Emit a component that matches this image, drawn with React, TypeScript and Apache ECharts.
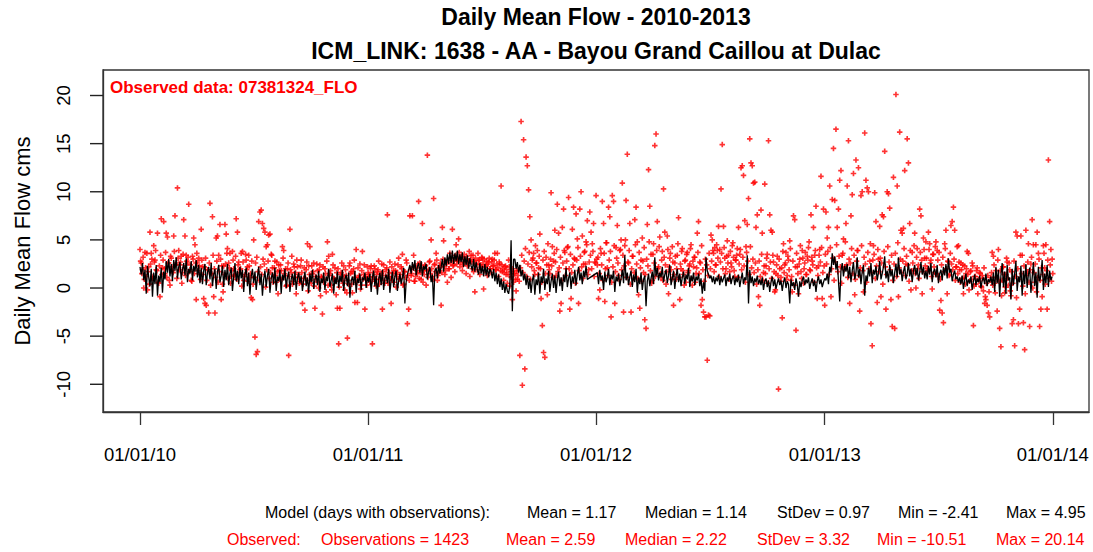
import React, { useEffect, useRef } from "react";
import * as echarts from "echarts";

// ---------- data ----------
const xTickDays = [0, 365, 730, 1096, 1461];
const xTickLabels = ["01/01/10", "01/01/11", "01/01/12", "01/01/13", "01/01/14"];
const yTicks = [-10, -5, 0, 5, 10, 15, 20];
const chunkStartDays = [0, 366, 732, 1098];
const stepDays = 2;

const titleLine1 = "Daily Mean Flow - 2010-2013";
const titleLine2 = "ICM_LINK: 1638 - AA - Bayou Grand Caillou at Dulac";
const obsLabel = "Observed data: 07381324_FLO";
const yName = "Daily Mean Flow cms";
const modelStatTexts = ["Model (days with observations):", "Mean = 1.17", "Median = 1.14", "StDev = 0.97", "Min = -2.41", "Max = 4.95"];
const obsStatTexts = ["Observed:", "Observations = 1423", "Mean = 2.59", "Median = 2.22", "StDev = 3.32", "Min = -10.51", "Max = 20.14"];

// model (every second day)
const model2010 = [
  2.2, 1.4, 2.6, 0.8, 1.9, -0.6, 2.3, 1.1, 0.2, 2.0, -0.9, 1.6, 0.4, 2.4, -0.8, 1.3, 0.6, 2.1, -0.5, 1.7, 0.9,
  2.8, 1.6, 3.0, 1.2, 2.5, 0.7, 2.9, 1.8, 3.2, 1.0, 2.2, 2.7, 0.9, 1.9, 2.6, 1.3, 3.1, 0.6, 2.0, 1.5, 2.8, 0.8, 2.3, 1.7, 2.9, 1.1, 2.4, 0.5,
  2.1, 0.4, 1.8, 2.5, 0.3, 1.6, 2.2, 0.9, 2.6, 0.2, 1.4, 2.0, -0.1, 1.7, 2.4, 0.6, 1.3, 2.3, 0.1, 1.9, 0.8, 2.5, 0.3, 1.5, 2.1, -0.3, 1.2, 2.6, 0.7, 1.8, 0.4, 2.2,
  1.0, 1.9, -0.4, 1.4, 2.1, 0.2, 1.6, -0.7, 1.2, 2.0, 0.5, 1.7, -0.2, 1.1, 2.2, 0.3, 1.5, -0.8, 0.9, 1.8, 0.1, 1.3, 2.0, -0.5, 1.0, 1.6, 0.4, 2.1, -0.3, 1.2, 0.7, 1.9, -0.6, 1.4, 0.8, 2.0, 0.0, 1.1, 1.7, -0.4, 0.9, 1.5, 0.3, 1.8, -0.2, 1.0, 1.6, 0.5,
  1.3, -0.3, 0.8, 1.7, 0.2, 1.1, -0.5, 1.5, 0.6, 1.9, -0.1, 0.9, 1.4, 0.3, 1.8, -0.4, 1.0, 0.5, 1.6, -0.2, 1.2, 0.7, 2.0, 0.1, 0.8, 1.5, -0.6, 1.1, 0.4, 1.7, 0.0, 1.3, 0.6, 1.9, -0.3, 0.9, 1.4, 0.2, 1.6, -1.0, 0.7, 1.2, 0.3, 1.8, -0.5, 1.0, 0.5, 1.5, -0.2, 1.1, 0.8, 1.6, 0.0, 1.2,
];
const model2011 = [
  0.6, 1.5, -0.4, 1.1, 1.8, 0.2, 1.3, -0.7, 0.9, 1.6, 0.3, 1.9, -0.2, 1.0, 1.4, 0.5, 2.0, -0.5, 0.8, 1.7, 0.1, 1.2, 1.8, -0.3, 0.7, 1.5, 0.4, 1.1, 2.1, -1.6, 0.6, 1.4, 1.9, 2.4, 1.5, 2.7, 1.8, 2.9, 1.3, 2.2, 2.6, 1.6, 2.8, 1.2, 2.3, 1.9, 2.5, 0.9, 1.7, 2.2, 0.6, 1.4, -1.8, 1.8, 2.1, 1.0, 2.4, 1.5,
  2.2, 3.0, 1.7, 3.2, 2.3, 3.5, 2.5, 3.7, 2.6, 3.9, 2.5, 3.6, 2.8, 3.9, 2.5, 3.5, 2.7, 3.7, 2.2, 3.3, 2.4, 3.4, 2.0, 3.1, 2.3, 1.8, 3.0, 1.7, 2.7, 1.9, 1.4, 2.6, 1.5, 2.3, 1.2, 2.5, 1.3, 2.2, 1.1, 2.0,
  1.7, 1.0, 2.0, 0.7, 1.6, 0.4, 1.4, 0.1, 1.0, -0.2, 0.7, -0.5, 0.4, -0.3, -0.6, 0.3,
  4.95, -2.41, 3.0,
  3.0, 2.0, 2.7, 1.6, 2.4, 1.2, 1.9, 0.8, 1.5, 0.3, 1.3, -0.1, 1.0, -0.5, 0.8, 1.4, -0.7, 0.9,
  0.3, 1.6, -0.6, 1.2, 0.5, 2.0, -0.2, 1.0, 0.4, 1.8, -0.4, 0.7, 1.5, 0.0, 1.3, -0.5, 0.9, 1.7, 0.2, 1.1, -0.3, 1.4, 0.6, 2.1, 0.1, 1.0, 1.6, -0.1, 1.2, 0.5, 1.9, 0.3, 1.4, 2.2, 0.8, 1.6, 0.4, 1.8, 1.1, 2.3, 0.9,
];
const model2012 = [
  1.6, 0.4, 1.9, 0.8, 1.3, -0.2, 1.7, 0.6, 1.1, 2.0, 0.3, 1.4, 0.9, 1.8, -0.4, 1.2, 0.7, 1.5, 0.2, 1.0, 1.9, 0.5, 3.4, 0.8, 1.6,
  0.3, 1.2, 1.8, 0.1, 1.4, 0.6, 2.0, -0.5, 1.1, 0.4, 1.6, -0.2, 0.9, 1.3, -1.9, 0.7, 1.5, 0.2, 1.0, 1.7, 0.4, 3.2, 1.2, 2.1, 0.8, 1.6, 1.1, 2.2, 0.6, 1.4,
  1.9, 0.5, 1.3, 2.4, 0.3, 1.0, 1.8, -0.1, 1.2, 2.0, 0.6, 1.5, 0.2, 1.1, 1.7, 0.4, 1.4, 0.9, 2.1, 0.1, 1.3, 0.7, 1.6, 0.3, 1.2, 0.8,
  1.5, 0.2, 1.0, -0.6, 0.6, -0.3, 3.2, 1.8, 1.4, 1.0,
  1.3, 0.6, 1.2, 0.4, 1.1, 0.7, 1.4, 0.3, 1.2, 0.6, 1.0, 1.4, 0.2, 1.1, 0.7, 1.5, 0.4, 1.0, 1.3, 0.3, 1.1, 0.6, 1.4, 0.1, 0.9, 1.6, 0.4, 1.1,
  0.8, 3.4, -1.6, 1.9, 0.5, 1.2, 0.2, 1.0, 0.6, 1.3, 0.4,
  0.9, 0.3, 1.1, -0.2, 0.7, 1.0, 0.1, 0.8, -0.4, 0.6, 1.2, 0.2, 0.9, -0.1, 0.5, 1.0, 0.3, 0.8, -0.3, 0.6, 1.1, 0.0, 0.7, 0.4, -1.6, 0.9, 0.2, 0.6, -0.2, 1.0, 0.4, -0.9, 0.7, 0.1, 0.8, 1.2, 0.3, 0.9, 0.5, 1.1, -0.1, 0.6, 1.0, 0.2, 0.8, -0.4, 0.7, 1.2, 0.4, 0.9, 0.1, 0.6, 1.0,
];
const model2013 = [
  0.8, 1.5, 0.4, 2.2, 1.6, 3.6, 2.4, 3.3, 1.9, 2.8, 0.7, -1.4, 1.8, 2.6, 1.2, 2.3, 1.7,
  2.5, 1.0, 2.2, 0.6, 1.8, 2.7, 0.9, 1.6, 3.2, 1.1, 2.0, 0.4, 1.7, 2.4, -0.8, 1.3, 0.7, 2.1, 1.2, 2.6, 0.5, 1.9, 1.4, 2.3, 0.8, 1.6, 2.8, 0.9, 1.5, 2.2, 3.3, 1.0, 1.8, 0.6, 2.4, 1.2, 1.9, 0.5, 1.6, 2.5, 1.1, 3.2, 1.4, 2.0, 0.7, 1.7, 2.3, 0.9, 1.5, 2.6, 1.2, 2.0, 0.6, 1.8, 2.4, 1.3, 2.1, 0.8, 1.6, 2.7, 1.4, 2.2, 1.0,
  1.8, 0.9, 2.3, 1.4, 2.6, 0.6, 1.7, 2.0, 1.1, 2.4, 0.5, 1.5, 1.9, 0.8, 2.2, 1.3, 2.5, 1.0, 3.1, 1.6, 2.0, 0.7, 1.4, 1.8, 0.9, 1.2, 0.6,
  1.1, 0.4, 1.3, -0.1, 0.8, 1.5, 0.2, 0.9, 0.5, 1.2, -0.2, 0.7, 1.4, 0.3, 1.0, 0.6, 1.3, 0.0, 0.8, 1.1, 0.4, 1.5, 0.2, 0.9, 0.6, 1.2, 0.3,
  1.6, -0.4, 2.2, 0.5, 1.9, -0.9, 1.3, 2.6, 0.1, 1.7, -0.6, 2.4, 0.8, 1.1, -1.2, 2.0, 0.3, 1.5, 2.8, -0.3, 1.2, 0.6, 2.3, -0.8, 1.8, 0.4, 2.5, 0.0, 1.4, 2.1, -0.5, 1.0, 2.7, 0.2, 1.6, -1.0, 2.2, 0.7, 1.3, 2.9, -0.2, 1.5, 0.5, 2.4, 0.1, 1.8, 0.8, 1.2,
];

// observations on even days
const obs2010 = [
  4.0, 2.6, 1.9, 0.0, 3.7, 1.2, -0.2, 2.2, 5.8, 3.6, 1.0, 4.4, 2.9, 1.9, 5.7, 0.5, -0.9, 7.2, 2.1, 6.9,
  1.5, 5.7, 5.3, 2.6, 0.3, 3.1, 1.8, 5.4, 7.5, 2.6, 10.4, 3.9, 2.4, 3.3, 1.6, 7.1, 5.4, 3.4, 2.6, 8.7,
  1.9, 0.8, 3.3, 5.2, 4.5, -1.2, 2.7, 3.1, 1.4, 6.1, 2.2, -1.1, -1.6, -1.8, 1.9, -2.6, 8.8, 1.5, 7.4, -0.9,
  -2.6, 5.2, 5.4, 3.4, 6.6, -1.2, 0.4, 2.3, 6.6, 5.6, 4.1, 2.6, 3.6, 1.2, 3.8, 2.0, 1.4, 7.2, 5.8, 2.7,
  1.9, 3.6, 3.8, 0.8, 1.4, 2.9, 2.2, 3.4, 1.1, -1.0, -1.2, 5.0, -5.1, -6.9, -6.6, 6.9, 7.9, 8.1, 6.7, 6.2,
  5.8, 4.3, 4.5, 5.5, 5.6, 3.5, 2.1, 1.2, 2.8, 0.6, 1.7, 2.4, 0.9, 1.8, 4.3, 3.9, 1.3, 0.2, 2.0, -7.0,
  6.1, 1.6, 0.4, 2.5, 1.1, -0.6, 2.2, 1.4, 0.7, 2.9, -1.6, 1.0, -2.3, 1.9, 4.6, 2.3, 4.3, 0.5, 1.5, 2.6,
  -2.1, 0.9, 1.8, 0.0, 2.4, 1.2, -2.7, 0.6, 2.0, -0.4, 4.8, 3.3, 1.5, 0.3, 3.5, 1.0, 2.1, -0.7, -2.1, -5.8,
  -2.1, 1.6, 0.8, 2.3, -0.2, 1.3, -5.2, 0.4, 2.6, 1.7, -0.5, 2.0, -1.5, 4.0, -1.5, 1.1, 2.5, 0.3, 3.8, 1.4,
  -2.2, 0.9, 2.2,
];
const obs2011 = [
  1.4, 0.6, 2.3, -5.8, 1.1, 2.0, 0.2, 1.7, 2.8, 0.9, 1.5, -2.2, 2.4, 0.5, 1.9, 7.6, 1.2, 2.7, -1.6, 0.8,
  1.8, 2.5, 0.1, 1.6, 3.1, 1.0, 2.2, 3.5, 0.4, 1.7, 2.9, -3.7, -2.2, 7.5, 1.3, 7.5, 3.4, 0.7, 2.1, 1.5,
  9.0, 2.6, 0.9, 6.7, 1.8, 2.4, 0.3, 13.8, 1.9, 2.8, 5.0, 1.2, 9.3, 2.5, 3.6, 0.8, 1.6, 2.3, -1.8, 6.3,
  4.9, 1.4, 2.7, 0.6, 2.0, 3.6, 1.1, 6.1, 2.4, 1.7, 4.5, 2.9, 5.1, 2.2, 3.3, 1.8, 2.6, 3.0, 1.5, 2.3,
  2.8, 1.2, 3.4, 2.0, 1.7, -0.4, 2.5, 1.9, 2.9, 1.4, 2.2, 3.1, -0.1, 1.8, 2.4, 1.3, 2.7, 2.0, 1.6, 3.0,
  2.3, 3.6, 1.9, 3.6, 1.2, 2.5, 10.6, 1.7, 0.8, 2.2, 1.4, 0.5, 2.9, 0.2, 1.1, -1.2, 0.6, 1.5, -0.3, 0.9,
  1.8, -7.0, 17.3, -10.1, 15.4, -8.4, 13.6, 12.7, 10.2, 7.4, 5.0, 2.9, 3.6, 1.4, 2.6, 3.9, 2.1, 5.6, -1.1, -3.9,
  -6.7, -7.2, 3.2, -0.7, 2.4, 1.5, 9.9, 4.3, 2.8, 6.0, 1.3, 8.7, 5.7, -2.4, -1.6, 6.3, 8.2, 3.7, 2.0, 4.2,
  9.4, -2.2, -1.1, 6.1, 8.4, 3.0, 7.7, 5.1, -1.6, 8.2, 10.0, 5.4, 2.5, 3.8, 4.8, 7.0, 1.9, 7.9, 5.8, 4.6,
  6.7, 2.7, 9.6,
];
const obs2012 = [
  2.4, -1.1, -0.2, 3.6, 9.0, 6.7, -1.4, 4.7, 2.1, 8.4, 7.4, -3.0, 9.6, 9.0, -1.6, 4.2, 6.5, 1.3, 3.9, 5.0,
  10.9, -2.5, 4.4, 9.1, 13.9, 2.6, 6.7, -2.5, 3.3, 1.0, 7.1, 8.4, 4.8, -0.7, -2.1, 2.9, 5.2, 1.6, -3.3, -4.2,
  6.6, 12.3, 8.5, 3.5, 0.8, 4.6, 14.8, 16.0, 6.9, 2.2, 5.3, 1.1, 3.8, 10.3, 5.8, 0.4, 5.4, -0.6, 3.1, 1.9,
  4.3, -1.8, 2.6, 0.9, 3.4, 7.3, -1.2, 2.0, 4.1, 1.4, 2.8, 0.6, 3.7, 1.8, 2.5, 4.5, 0.3, 2.2, 3.2, 1.5,
  5.7, 6.9, 2.7, -1.8, -1.2, -2.5, -3.0, -3.0, -7.5, -2.8, -2.9, 5.5, 5.0, 3.6, 4.2, 2.4, 3.9, 6.4, 4.0, 10.3,
  14.9, 6.4, 3.1, 2.0, 4.9, 3.4, 1.7, 2.6, 4.4, 3.2, 1.2, 2.9, 4.1, 6.3, 3.5, 12.5, 12.7, 11.7, 7.0, 4.3,
  6.6, 9.3, 15.5, 13.0, 12.7, 10.9, 11.0, 6.3, 7.6, -0.9, -1.8, 8.1, 5.7, 1.6, 10.8, 2.3, 3.5, 15.3, 7.6, 6.0,
  5.8, 2.7, -0.4, 1.5, 3.3, -10.5, 2.0, 1.1, -3.1, 4.6, 2.4, 3.7, 1.3, 2.9, 4.9, 0.8, -0.4, 7.5, 7.1, -4.4,
  2.2, -0.6, 3.0, 1.7, 3.9, 0.5, 2.6, 1.4, 3.3, 4.2, 1.9, 7.6, 2.8, 6.3, 3.4, 8.5, -1.1, 2.3, 4.0, 11.6,
  -1.1, 8.2, -1.8,
];
const obs2013 = [
  7.9, 5.2, 6.3, 10.6, -0.9, 9.2, 14.5, 9.1, 16.5, 6.3, 8.2, 11.2, 12.2, 3.4, 5.1, 2.2, 6.7, 10.6, 15.3, -1.6,
  7.5, 9.7, 11.9, -0.7, 13.3, 3.9, 12.5, -2.4, 9.6, 10.0, -0.4, 16.1, 11.2, 10.4, 10.0, 2.8, -3.7, -6.0, 4.4, 9.9,
  6.9, -1.5, 3.0, 6.4, -0.9, 7.6, 7.4, 14.2, -2.2, 10.0, 9.8, 8.3, -1.2, -4.0, 11.5, -4.2, 20.1, 10.6, -0.9, 16.2,
  6.0, 5.7, 6.2, 12.2, 2.5, 15.5, 13.0, 6.7, -0.2, 3.7, 1.8, 5.7, 0.0, 4.1, 2.4, 8.2, 7.5, -0.6, 5.2, 3.1,
  4.8, 2.0, 5.8, 4.6, 2.9, -0.1, 3.5, 1.6, 4.8, 3.9, 1.2, -2.3, -1.3, -2.6, -3.6, 4.6, 6.0, -0.6, 2.7, 1.4,
  6.5, 6.9, 8.4, 6.0, 2.2, 4.3, 4.4, 1.9, 2.6, 1.0, -0.6, 2.3, 1.5, 3.8, 3.6, 0.7, 1.8, 2.6, -3.9, 1.2,
  0.4, 2.1, 0.9, 1.6, 0.2, 1.3, -0.3, -1.6, -1.2, -1.8, -2.6, -3.0, 1.1, 3.7, 3.3, 0.5, 1.8, -2.4, 4.0, -4.2,
  -6.1, 0.8, 2.2, -0.5, 1.4, 2.7, 0.3, 1.9, -0.8, -3.7, -3.3, -6.0, 5.8, 5.4, -3.7, -2.2, 5.4, 3.4, -3.6, -6.4,
  6.0, 1.7, 4.6, -4.0, 2.5, 7.1, 4.5, 0.6, 4.5, 5.8, 3.6, -4.0, -2.2, -0.9, 4.4, 2.1, 4.5, -2.2, 13.3, 6.9,
  4.0, 3.0,
];

// observations on odd days (the dense band around the model line)
const obsOdd2010 = [
  2.8, 1.5, 3.2, 0.9, 2.1, 3.6, 1.7, 0.4, 2.5, 3.0, 1.2, 2.7, 3.9, 1.8, 0.6, 2.3, 3.4, 1.4, 2.9, 2.0, 3.7, 1.1, 2.6, 0.8, 3.3, 2.2, 1.6, 3.8, 2.4, 1.0, 3.1, 1.9, 2.7, 0.5, 3.5, 2.1, 1.3, 2.8, 3.2, 1.7, 2.4, 0.7, 3.0, 1.5, 2.6, 3.6, 1.8, 2.3, 0.9, 2.9, 1.4,
  2.2, 3.1, 0.8, 1.9, 2.6, 0.3, 1.5, 3.4, 2.0, 1.1, 2.8, 0.6, 1.7, 3.0, 2.3, -0.4, 1.4, 2.5, 3.6, 1.0, 2.1, 0.5, 1.8, 2.9, 1.3, 3.3, 0.9, 2.4, 1.6, 2.0, 0.2, 2.7, 1.2, 3.5, 1.9, 0.7, 2.3, 1.5, 2.8, 0.4, 1.1, 2.6, 3.2, 1.7, 0.8, 2.2, 1.4, 3.0, 2.5, 0.1, 1.9, 2.8, 1.0, 1.6, 3.4, 0.6, 2.1, 1.3, 2.7, -0.6, 1.8, 2.4, 0.9, 3.1, 1.5, 2.0, 0.3, 2.6, 1.2, 1.9, 3.3, 0.7, 2.2, 1.6, 2.9, 1.1, 0.5, 2.3,
  1.6, 0.4, 2.1, 1.0, 2.7, -0.3, 1.4, 0.8, 2.3, 1.7, 0.2, 1.2, 2.5, 0.6, 1.9, -0.8, 1.1, 2.2, 0.9, 1.5, 2.8, 0.3, 1.3, 1.8, -0.2, 2.4, 1.0, 0.7, 1.6, 2.0, 0.1, 1.4, 2.6, 0.5, 1.2, 1.9, -0.5, 0.8, 2.3, 1.5, 0.4, 1.7, 2.9, 1.1, 0.6, 2.1, 1.3, -0.1, 1.8, 0.9, 2.4, 1.2, 0.3, 1.6,
];
const obsOdd2011 = [
  1.2, 2.0, 0.7, 1.6, 2.3, 0.9, 1.4, 1.9, 0.4, 1.1, 2.5, 1.7, 0.8, 1.3, 2.1, 0.5, 1.6, 1.0, 2.2, 1.5, 0.6, 1.8, 1.2, 2.4, 0.9, 1.4, 2.0, 0.3, 1.7, 1.1, 2.6, 1.3, 0.8, 1.9, 1.5, 2.2, 0.7, 1.2, 1.8, 2.5, 1.0, 1.6, 2.1, 0.6, 1.4, 2.3, 1.8, 1.1, 2.7, 1.5, 2.0, 0.9, 2.4, 1.7, 2.9, 1.3, 2.1, 2.6, 1.6, 3.0, 2.2, 1.8, 2.5, 2.9, 2.0,
  2.6, 3.1, 2.3, 2.8, 3.4, 2.5, 3.0, 3.7, 2.7, 3.2, 2.4, 3.5, 2.9, 3.3, 2.6, 3.8, 3.0, 2.7, 3.4, 2.8, 3.1, 2.5, 3.6, 2.9, 2.4, 3.2, 2.6, 3.0, 2.2, 2.8, 2.5, 3.1, 2.0, 2.7, 2.3, 2.9, 1.9, 2.5, 2.1, 2.7, 1.8, 2.4, 2.0, 1.6, 2.3, 1.9, 1.4, 2.2, 1.7, 1.2, 2.0, 1.5, 0.9, 1.8, 1.3, 0.7,
  2.1, 3.4, 1.6, 2.8, 4.1, 1.2, 2.5, 3.7, 0.9, 2.2, 3.1, 1.8, 4.4, 2.6, 1.4, 3.3, 2.0, 0.6, 2.9, 3.8, 1.5, 2.4, 4.6, 1.9, 3.0, 2.3, 1.1, 3.6, 2.7, 4.0, 1.7, 2.1, 3.2, 0.8, 2.6, 3.9, 1.3, 2.8, 4.3, 2.0, 3.5, 1.6, 2.4, 3.1, 0.5, 2.9, 4.2, 1.8, 3.3, 2.2, 1.0, 3.7, 2.5, 4.5, 1.4, 2.7, 3.4, 2.0, 3.8, 1.2, 2.6, 3.0,
];
const obsOdd2012 = [
  3.2, 1.5, 4.1, 2.4, 0.8, 3.6, 2.0, 4.7, 1.3, 2.9, 3.8, 0.6, 2.2, 4.4, 1.7, 3.1, 2.6, 0.9, 4.0, 1.9, 3.4, 2.3, 5.0, 1.1, 2.7, 3.9, 0.4, 2.0, 3.3, 1.6, 4.5, 2.5, 1.0, 3.7, 2.1, 0.7, 2.8, 4.2, 1.4, 3.0, 2.3, 4.8, 1.8, 0.5, 3.5, 2.6, 1.2, 3.9, 2.0, 4.3, 1.5, 2.9, 0.8, 3.2, 2.4, 1.7, 4.0, 2.2, 3.6, 0.9, 2.7, 1.4, 3.3, 2.0, 4.6, 1.1, 2.5, 3.8, 1.8, 0.3, 2.9, 3.5, 1.6, 2.3, 4.1, 1.0, 2.8, 3.2, 0.6, 2.1, 3.7, 1.5, 2.6, 4.4, 1.9, 0.7, 3.0, 2.4, 1.3, 3.6, 2.0,
  2.8, 3.9, 1.7, 2.4, 4.5, 3.1, 1.2, 2.7, 3.6, 2.0, 4.2, 1.5, 3.3, 2.6, 0.9, 3.8, 2.2, 4.7, 1.8, 2.9, 3.4, 1.1, 2.5, 4.0, 1.9, 3.2, 2.3, 0.6, 3.7, 2.8, 1.4, 4.3, 2.1, 3.0, 1.6, 2.6, 0.4, 1.9, 2.8, 1.2, 3.5, 0.8, 2.3, 1.5, 3.1, 0.5, 2.0, 2.7, 1.0, 3.4, 1.7, -0.2, 2.4, 1.3, 3.0, 0.7, 2.1, 3.8, 1.6, 2.6, 0.9, 3.3, 1.9, 4.1, 1.2, 2.8, 0.3, 2.2, 3.6, 1.5, 2.5, 4.4, 1.0, 3.1, 2.0, 3.7, 1.4, 2.9, 4.8, 1.8, 3.2, 2.4, 0.6, 3.9, 2.1, 1.3, 3.4, 2.7, 4.2, 1.6, 2.3, 3.5,
];
const obsOdd2013 = [
  2.5, 3.8, 1.4, 4.2, 2.0, 3.1, 0.8, 2.7, 4.5, 1.7, 3.3, 2.2, 0.5, 3.6, 1.9, 4.8, 2.4, 1.1, 3.0, 2.6, 4.1, 1.5, 3.4, 0.9, 2.8, 3.9, 1.3, 2.1, 4.4, 1.8, 3.2, 2.5, 0.6, 3.7, 2.0, 4.6, 1.6, 2.9, 3.5, 1.0, 2.3, 4.0, 1.7, 3.1, 2.6, 0.4, 3.8, 2.2, 1.4, 4.3, 2.7, 1.9, 3.4, 0.8, 2.5, 3.6, 1.2, 4.7, 2.1, 3.0, 1.6, 2.8, 4.1, 1.3, 3.3, 2.4, 0.7, 3.9, 1.8, 2.6, 4.4, 1.5, 3.2, 2.0, 1.0, 3.7, 2.9, 1.7, 4.0, 2.3,
  3.1, 1.8, 4.0, 2.6, 1.2, 3.5, 2.2, 4.3, 1.5, 2.9, 3.7, 0.9, 2.4, 3.2, 1.7, 4.1, 2.0, 2.8, 1.3, 3.6, 2.5, 1.9, 3.0, 0.8, 2.2, 1.5, 2.7, 0.6, 1.9, 2.4, 1.1, 0.4, 2.0, 1.4, -0.2, 1.7, 0.9, 2.3, 0.2, 1.2, 1.8, -0.6, 0.7, 1.5, 0.1, 1.0, 2.1, -0.9, 0.5, 1.3, -0.4, 0.8,
  1.6, 0.3, 2.4, -0.5, 1.1, 2.9, 0.7, 1.8, -0.8, 2.2, 1.4, 0.1, 3.1, 1.0, 2.6, -0.3, 1.7, 0.5, 2.8, 1.2, -1.0, 2.0, 0.9, 3.4, 1.5, 0.2, 2.3, -0.6, 1.3, 2.7, 0.6, 1.9, 3.2, 0.0, 1.6, 2.5, -0.4, 1.1, 3.0, 0.8, 2.1, 1.4, 3.6, 0.4, 1.8, 2.9, 1.0, 2.4, 0.7, 1.5,
];

const modelChunks = [model2010, model2011, model2012, model2013];
const obsChunks = [obs2010, obs2011, obs2012, obs2013];
const obsOddChunks = [obsOdd2010, obsOdd2011, obsOdd2012, obsOdd2013];

function toPoints(chunks: number[][], offset: number): number[][] {
  const out: number[][] = [];
  chunks.forEach((arr, c) => {
    arr.forEach((v, k) => out.push([chunkStartDays[c] + offset + k * stepDays, v]));
  });
  return out;
}

// ---------- chart ----------
const FONT = "'Liberation Sans', Arial, sans-serif";
const RED = "#ff0000";
const AXIS = "#333";
const PLUS = "path://M7,0H13V7H20V13H13V20H7V13H0V7H7Z";
const GRID_LEFT = 103;
const GRID_TOP = 70;
const GRID_BOTTOM = 140;
const CHART_H = 552;
const TICK_LEN = 13;
const Y_MIN = -12.88;
const Y_MAX = 22.65;

export default function App() {
  const ref = useRef<HTMLDivElement>(null);
  useEffect(() => {
    if (!ref.current) return;
    const chart = echarts.init(ref.current, undefined, { renderer: "svg" });
    const modelXs = [265, 527, 645, 777, 898, 1006];
    const obsXs = [227, 321, 506, 625, 757, 877, 996];
    const graphics: any[] = [
      { type: "text", x: 596, y: 17, style: { text: titleLine1, font: `bold 23px ${FONT}`, fill: "#000", textAlign: "center", textVerticalAlign: "middle" } },
      { type: "text", x: 596, y: 51, style: { text: titleLine2, font: `bold 23px ${FONT}`, fill: "#000", textAlign: "center", textVerticalAlign: "middle" } },
      { type: "text", x: 110, y: 87, style: { text: obsLabel, font: `bold 17px ${FONT}`, fill: RED, textAlign: "left", textVerticalAlign: "middle" } },
      { type: "text", x: 22, y: 241, rotation: Math.PI / 2, style: { text: yName, font: `22px ${FONT}`, fill: "#000", textAlign: "center", textVerticalAlign: "middle" } },
    ];
    modelStatTexts.forEach((t, i) => graphics.push({ type: "text", x: modelXs[i], y: 512, style: { text: t, font: `16px ${FONT}`, fill: "#000", textAlign: "left", textVerticalAlign: "middle" } }));
    obsStatTexts.forEach((t, i) => graphics.push({ type: "text", x: obsXs[i], y: 539, style: { text: t, font: `16px ${FONT}`, fill: RED, textAlign: "left", textVerticalAlign: "middle" } }));

    // y-axis ticks and rotated tick labels (same linear mapping as the value axis)
    const plotH = CHART_H - GRID_TOP - GRID_BOTTOM;
    yTicks.forEach((v) => {
      const py = GRID_TOP + ((Y_MAX - v) / (Y_MAX - Y_MIN)) * plotH;
      graphics.push({
        type: "rect",
        z: 100,
        silent: true,
        shape: { x: GRID_LEFT - TICK_LEN, y: py - 0.7, width: TICK_LEN, height: 1.4 },
        style: { fill: "#222" },
      });
      graphics.push({
        type: "text",
        z: 100,
        silent: true,
        x: 63,
        y: py,
        rotation: Math.PI / 2,
        style: { text: String(v), font: `18.5px ${FONT}`, fill: "#000", textAlign: "center", textVerticalAlign: "middle" },
      });
    });

    const scatterBase = { type: "scatter", symbol: PLUS, symbolSize: 5.5, itemStyle: { color: RED }, silent: true, z: 2 };

    chart.setOption({
      animation: false,
      backgroundColor: "#fff",
      grid: { left: GRID_LEFT, right: 4, top: GRID_TOP, bottom: GRID_BOTTOM, show: true, borderColor: AXIS, borderWidth: 1.3, backgroundColor: "transparent" },
      xAxis: {
        type: "value",
        position: "bottom",
        min: -59.2,
        max: 1519,
        splitLine: { show: false },
        axisLine: { show: true, onZero: false, lineStyle: { color: AXIS, width: 1.3 } },
        axisTick: { show: true, length: TICK_LEN, inside: false, customValues: xTickDays, lineStyle: { color: AXIS, width: 1.3 } },
        axisLabel: {
          customValues: xTickDays,
          margin: 33,
          fontSize: 18.5,
          fontFamily: FONT,
          color: "#000",
          formatter: (v: number) => xTickLabels[xTickDays.indexOf(Math.round(v))] ?? "",
        },
      },
      yAxis: {
        type: "value",
        position: "left",
        min: Y_MIN,
        max: Y_MAX,
        splitLine: { show: false },
        axisLine: { show: true, onZero: false, lineStyle: { color: AXIS, width: 1.3 } },
        axisTick: { show: false },
        axisLabel: { show: false },
      },
      graphic: graphics,
      series: [
        { ...scatterBase, data: toPoints(obsOddChunks, 1) },
        { ...scatterBase, data: toPoints(obsChunks, 0) },
        {
          type: "line",
          data: toPoints(modelChunks, 0),
          showSymbol: false,
          symbol: "none",
          lineStyle: { color: "#000", width: 1.3 },
          silent: true,
          z: 3,
        },
      ],
    });

    return () => chart.dispose();
  }, []);
  return <div ref={ref} style={{ position: "absolute", left: 0, top: 0, width: 1093, height: 552 }} />;
}
